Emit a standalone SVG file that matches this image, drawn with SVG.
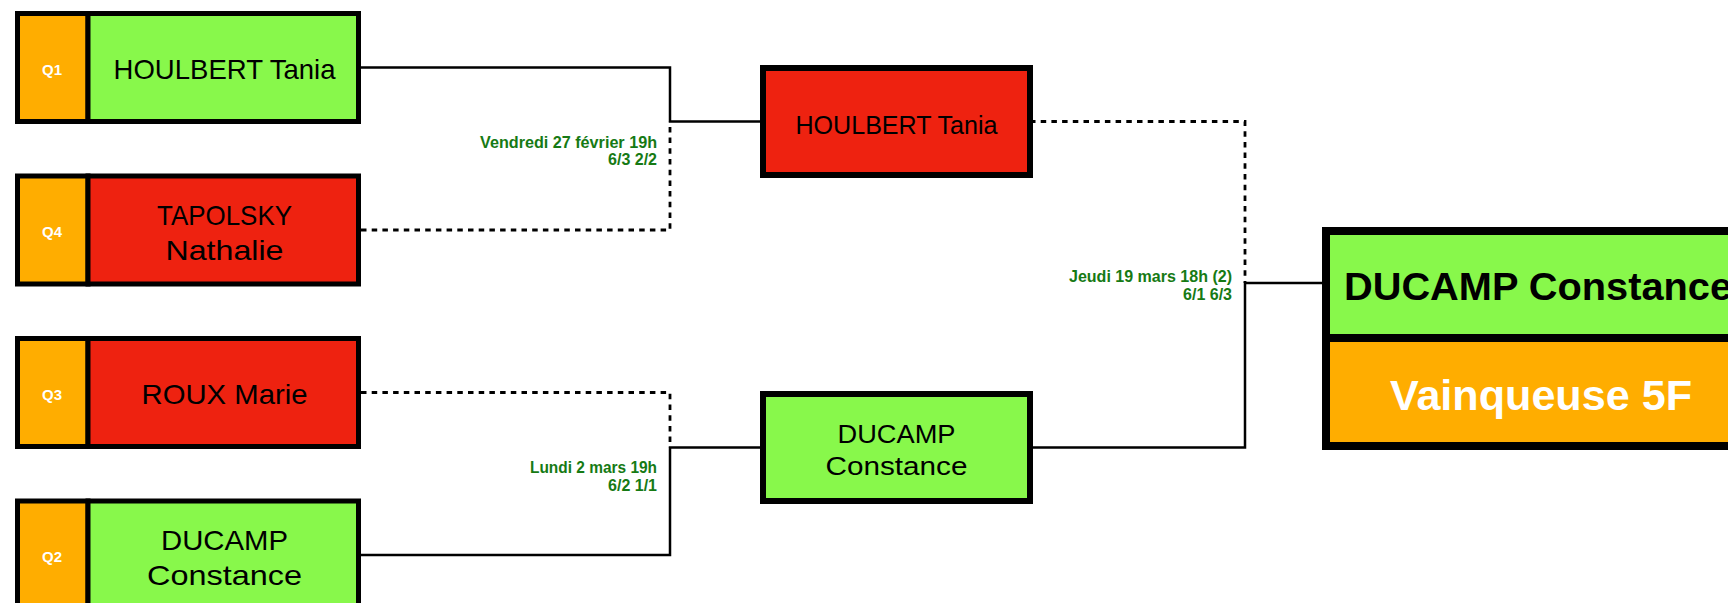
<svg xmlns="http://www.w3.org/2000/svg" width="1728" height="603" viewBox="0 0 1728 603">
<style>
.bg{fill:#ffffff}
.q{fill:#FFAD00;stroke:#000;stroke-width:5}
.win{fill:#88F84B;stroke:#000;stroke-width:5}
.lose{fill:#EE2210;stroke:#000;stroke-width:5}
.m{stroke-width:6}
.ql{font-family:"Liberation Sans",Arial,sans-serif;font-weight:bold;font-size:15px;fill:#fff;text-anchor:middle}
.nm{font-family:"Liberation Sans",Arial,sans-serif;font-size:28px;fill:#000;text-anchor:middle}
.mn{font-family:"Liberation Sans",Arial,sans-serif;font-size:25px;fill:#000;text-anchor:middle}
.sc{font-family:"Liberation Sans",Arial,sans-serif;font-weight:bold;font-size:16px;fill:#167A14;text-anchor:end}
.solid{fill:none;stroke:#000;stroke-width:2.5}
.dot{fill:none;stroke:#000;stroke-width:2.8;stroke-dasharray:5.5 5.2}
</style>
<rect class="bg" x="0" y="0" width="1728" height="603"/>
<g id="connectors">
<path class="solid" d="M361,67.5 H670 V121.5 H763"/>
<path class="dot" d="M361,230 H670 V121.5"/>
<path class="dot" d="M361,392.5 H670 V447.5"/>
<path class="solid" d="M361,555 H670 V447.5 H763"/>
<path class="dot" d="M1030,121.5 H1245 V283"/>
<path class="solid" d="M1030,447.5 H1245 V283 H1326"/>
<text class="sc" x="657" y="147.5" textLength="177" lengthAdjust="spacingAndGlyphs">Vendredi 27 février 19h</text>
<text class="sc" x="657" y="165">6/3 2/2</text>
<text class="sc" x="657" y="473" textLength="127" lengthAdjust="spacingAndGlyphs">Lundi 2 mars 19h</text>
<text class="sc" x="657" y="490.5">6/2 1/1</text>
<text class="sc" x="1232" y="282" textLength="163" lengthAdjust="spacingAndGlyphs">Jeudi 19 mars 18h (2)</text>
<text class="sc" x="1232" y="300">6/1 6/3</text>
</g>
<g id="q1">
<rect class="q" x="17.5" y="13.5" width="70.5" height="108"/>
<rect class="win" x="88" y="13.5" width="270.5" height="108"/>
<text class="ql" x="52" y="74.5">Q1</text>
<text class="nm" x="224.5" y="79" textLength="222" lengthAdjust="spacingAndGlyphs">HOULBERT Tania</text>
</g>
<g id="q4">
<rect class="q" x="17.5" y="176" width="70.5" height="108"/>
<rect class="lose" x="88" y="176" width="270.5" height="108"/>
<text class="ql" x="52" y="237">Q4</text>
<text class="nm" x="224.5" y="225" textLength="135" lengthAdjust="spacingAndGlyphs">TAPOLSKY</text>
<text class="nm" x="224.5" y="260" textLength="118" lengthAdjust="spacingAndGlyphs">Nathalie</text>
</g>
<g id="q3">
<rect class="q" x="17.5" y="338.5" width="70.5" height="108"/>
<rect class="lose" x="88" y="338.5" width="270.5" height="108"/>
<text class="ql" x="52" y="399.5">Q3</text>
<text class="nm" x="224.5" y="403.5" textLength="166" lengthAdjust="spacingAndGlyphs">ROUX Marie</text>
</g>
<g id="q2">
<rect class="q" x="17.5" y="501" width="70.5" height="108"/>
<rect class="win" x="88" y="501" width="270.5" height="108"/>
<text class="ql" x="52" y="562">Q2</text>
<text class="nm" x="224.5" y="550" textLength="127" lengthAdjust="spacingAndGlyphs">DUCAMP</text>
<text class="nm" x="224.5" y="585" textLength="155" lengthAdjust="spacingAndGlyphs">Constance</text>
</g>
<g id="sf1">
<rect class="lose m" x="763" y="68" width="267" height="107"/>
<text class="mn" x="896.5" y="134" textLength="202" lengthAdjust="spacingAndGlyphs">HOULBERT Tania</text>
</g>
<g id="sf2">
<rect class="win m" x="763" y="394" width="267" height="107"/>
<text class="mn" x="896.5" y="442.5" textLength="118" lengthAdjust="spacingAndGlyphs">DUCAMP</text>
<text class="mn" x="896.5" y="475" textLength="142" lengthAdjust="spacingAndGlyphs">Constance</text>
</g>
<g id="final">
<rect x="1326" y="231" width="480" height="107" fill="#88F84B" stroke="#000" stroke-width="8"/>
<rect x="1326" y="338" width="480" height="108" fill="#FFAD00" stroke="#000" stroke-width="8"/>
<text x="1344" y="300" font-family="Liberation Sans, Arial, sans-serif" font-weight="bold" font-size="39" fill="#000" textLength="388" lengthAdjust="spacingAndGlyphs">DUCAMP Constance</text>
<text x="1541" y="410" font-family="Liberation Sans, Arial, sans-serif" font-weight="bold" font-size="42" fill="#fff" text-anchor="middle" textLength="302" lengthAdjust="spacingAndGlyphs">Vainqueuse 5F</text>
</g>
</svg>
